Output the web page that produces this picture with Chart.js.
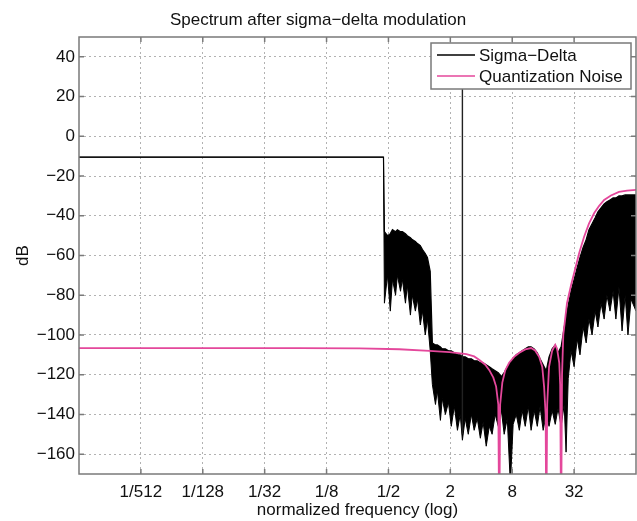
<!DOCTYPE html>
<html>
<head>
<meta charset="utf-8">
<script src="https://cdn.jsdelivr.net/npm/chart.js@4.4.0/dist/chart.umd.min.js"></script>
<style>
  html, body { margin: 0; padding: 0; background: #fff; }
  #wrap { width: 637px; height: 521px; }
</style>
</head>
<body>
<div id="wrap"><canvas id="spectrum" width="637" height="521"></canvas></div>
<script>
// x values are log2 of the normalized frequency
var xTicks = [-9, -7, -5, -3, -1, 1, 3, 5];
var xTickLabels = ['1/512', '1/128', '1/32', '1/8', '1/2', '2', '8', '32'];
var yTicks = [-160, -140, -120, -100, -80, -60, -40, -20, 0, 20, 40];

// Sigma-Delta spectrum: upper and lower edge of the dense trace (dB)
var sdLog2F = [-11, -1.16, -1.13, -1.03, -0.94, -0.87, -0.77, -0.71, -0.61, -0.55,
  -0.45, -0.39, -0.29, -0.23, -0.13, -0.06, 0.03, 0.10, 0.19, 0.26,
  0.35, 0.42, 0.52, 0.58, 0.68, 0.74, 0.84, 0.94, 1.03, 1.13,
  1.23, 1.32, 1.39, 1.48, 1.58, 1.68, 1.77, 1.87, 1.97, 2.06,
  2.16, 2.26, 2.35, 2.45, 2.55, 2.65, 2.74, 2.84, 2.94, 3.03,
  3.13, 3.23, 3.32, 3.42, 3.52, 3.61, 3.71, 3.81, 3.90, 4.00,
  4.10, 4.19, 4.29, 4.39, 4.48, 4.58, 4.68, 4.74, 4.81, 4.90,
  5.00, 5.10, 5.19, 5.29, 5.39, 5.48, 5.58, 5.68, 5.77, 5.87,
  5.97, 6.06, 6.16, 6.26, 6.35, 6.45, 6.55, 6.65, 6.74, 6.84, 7.00];
var sdUpper = [-10.5, -10.5, -48, -50, -49, -47, -48, -47, -48, -48,
  -49, -50, -51, -52, -53, -54, -55, -57, -59, -61,
  -68, -104, -105, -105, -106, -107, -107, -108, -108, -109,
  -110, -110, -111, -111, -112, -112, -113, -113, -114, -114,
  -115, -116, -117, -118, -119, -121, -119, -116, -114, -112,
  -110, -109, -108, -107, -106, -106, -107, -109, -112, -115,
  -118, -111, -107, -105, -109, -106, -96, -91, -85, -78,
  -72, -66, -61, -56, -52, -47, -44, -41, -38, -36,
  -34, -33, -32, -31, -31, -30, -30, -29.5, -29.5, -29.5, -29.5];
var sdLower = [-10.5, -10.5, -84, -70, -88, -72, -80, -70, -78, -72,
  -84, -75, -90, -80, -88, -82, -95, -88, -100, -92,
  -108, -125, -135, -128, -143, -132, -140, -134, -146, -136,
  -148, -140, -153, -142, -150, -140, -148, -142, -152, -144,
  -156, -146, -150, -140, -146, -138, -150, -142, -175, -145,
  -140, -148, -138, -146, -136, -148, -138, -146, -136, -148,
  -140, -146, -138, -145, -137, -146, -135, -159, -122, -108,
  -116, -102, -110, -96, -104, -92, -100, -88, -96, -84,
  -92, -80, -88, -78, -92, -76, -98, -80, -100, -82, -88];

// the signal tone
var toneLog2F = [1.39, 1.39];
var toneDb = [30, -150];

// Quantization noise shaping curve (dB)
var qnLog2F = [-11, -3.87, -1.94, -0.65, 0.32, 0.97, 1.52, 1.77, 1.94, 2.13,
  2.26, 2.39, 2.48, 2.55, 2.58, 2.61, 2.68, 2.77, 2.90, 3.06,
  3.23, 3.42, 3.61, 3.74, 3.87, 3.97, 4.03, 4.08, 4.10, 4.13,
  4.19, 4.29, 4.39, 4.45, 4.52, 4.55, 4.58, 4.61, 4.65, 4.71,
  4.77, 4.90, 5.03, 5.16, 5.32, 5.48, 5.65, 5.81, 5.97, 6.19,
  6.45, 6.71, 7.00];
var qnDb = [-106.6, -106.6, -106.8, -107.2, -108, -108.6, -109.6, -110.8, -112.6, -115,
  -117.7, -121.5, -126, -135, -200, -135, -124, -118, -114, -111,
  -109, -107.3, -106.6, -107.8, -111, -116, -126, -140, -200, -135,
  -116, -108, -105, -107, -114, -125, -200, -120, -100, -92,
  -84, -75, -67, -59, -50.7, -44, -38.6, -35, -32, -29.8,
  -28, -27.3, -27];

var pink = '#e4479b';
var axisGray = '#7a7a7a';

function pts(xs, ys) {
  return xs.map(function(v, i) { return {x: v, y: ys[i]}; });
}
function minusLabel(v) {
  return v < 0 ? '\u2212' + Math.abs(v) : String(v);
}

Chart.defaults.font.family = "'Liberation Sans', Arial, Helvetica, sans-serif";
Chart.defaults.font.size = 17;
Chart.defaults.color = '#111';

// axes box, inward ticks and a legend inside the plot
var boxPlugin = {
  id: 'matlabBox',
  afterDatasetsDraw: function(chart) {
    var ctx = chart.ctx, a = chart.chartArea;
    var xs = chart.scales.x, ys = chart.scales.y;
    ctx.save();
    ctx.strokeStyle = axisGray;
    ctx.lineWidth = 1.5;
    ctx.strokeRect(a.left, a.top, a.right - a.left, a.bottom - a.top);
    ctx.beginPath();
    xTicks.forEach(function(v) {
      var px = xs.getPixelForValue(v);
      ctx.moveTo(px, a.bottom); ctx.lineTo(px, a.bottom - 5);
      ctx.moveTo(px, a.top); ctx.lineTo(px, a.top + 5);
    });
    yTicks.forEach(function(v) {
      var py = ys.getPixelForValue(v);
      ctx.moveTo(a.left, py); ctx.lineTo(a.left + 5, py);
      ctx.moveTo(a.right, py); ctx.lineTo(a.right - 5, py);
    });
    ctx.stroke();

    // legend
    var lx = a.right - 205, ly = a.top + 6, lw = 200, lh = 46;
    ctx.fillStyle = '#fff';
    ctx.fillRect(lx, ly, lw, lh);
    ctx.strokeRect(lx, ly, lw, lh);
    var items = [
      {text: 'Sigma\u2212Delta', color: '#000'},
      {text: 'Quantization Noise', color: pink}
    ];
    ctx.font = "17px 'Liberation Sans', Arial, sans-serif";
    ctx.textBaseline = 'middle';
    ctx.textAlign = 'left';
    items.forEach(function(it, i) {
      var cy = ly + 12 + i * 21;
      ctx.beginPath();
      ctx.strokeStyle = it.color;
      ctx.lineWidth = 1.6;
      ctx.moveTo(lx + 6, cy); ctx.lineTo(lx + 44, cy);
      ctx.stroke();
      ctx.fillStyle = '#111';
      ctx.fillText(it.text, lx + 48, cy + 1);
    });
    ctx.restore();
  }
};

var ctx = document.getElementById('spectrum').getContext('2d');
var chart = new Chart(ctx, {
  type: 'line',
  data: {
    datasets: [{
      label: 'Sigma\u2212Delta',
      data: pts(sdLog2F, sdUpper),
      borderColor: '#000',
      borderWidth: 1.2,
      fill: false,
      order: 2
    }, {
      label: 'Sigma\u2212Delta lower',
      data: pts(sdLog2F, sdLower),
      borderColor: '#000',
      borderWidth: 1,
      backgroundColor: '#000',
      fill: '-1',
      order: 2
    }, {
      label: 'tone',
      data: pts(toneLog2F, toneDb),
      borderColor: '#222',
      borderWidth: 1.4,
      fill: false,
      order: 1
    }, {
      label: 'Quantization Noise',
      data: pts(qnLog2F, qnDb),
      borderColor: pink,
      borderWidth: 1.8,
      fill: false,
      order: 0
    }]
  },
  options: {
    responsive: false,
    animation: false,
    devicePixelRatio: 1,
    parsing: true,
    layout: { padding: { left: 0, right: 1, top: 0, bottom: 0 } },
    elements: { point: { radius: 0 }, line: { tension: 0 } },
    plugins: {
      legend: { display: false },
      tooltip: { enabled: false },
      title: {
        display: true,
        text: 'Spectrum after sigma\u2212delta modulation',
        font: { size: 17, weight: 'normal' },
        color: '#111',
        padding: { top: 10, bottom: 6.6 }
      }
    },
    scales: {
      x: {
        type: 'linear',
        min: -11,
        max: 7,
        afterBuildTicks: function(scale) {
          scale.ticks = xTicks.map(function(v) { return {value: v}; });
        },
        afterFit: function(scale) { scale.height = 47; },
        ticks: {
          autoSkip: false,
          maxRotation: 0,
          padding: 8,
          callback: function(v) {
            var i = xTicks.indexOf(v);
            return i >= 0 ? xTickLabels[i] : '';
          }
        },
        grid: { color: 'rgba(0,0,0,0.3)', lineWidth: 1, drawTicks: false },
        border: { display: false, dash: [2, 3] },
        title: {
          display: true,
          text: 'normalized frequency (log)',
          font: { size: 17 },
          padding: { top: 0, bottom: 0 }
        }
      },
      y: {
        type: 'linear',
        min: -170,
        max: 50,
        afterBuildTicks: function(scale) {
          scale.ticks = yTicks.map(function(v) { return {value: v}; });
        },
        afterFit: function(scale) { scale.width = 79; },
        ticks: {
          autoSkip: false,
          padding: 4,
          callback: function(v) { return minusLabel(v); }
        },
        grid: { color: 'rgba(0,0,0,0.3)', lineWidth: 1, drawTicks: false },
        border: { display: false, dash: [2, 3] },
        title: {
          display: true,
          text: 'dB',
          font: { size: 17 },
          padding: { top: 13, bottom: 0 }
        }
      }
    }
  },
  plugins: [boxPlugin]
});
</script>
</body>
</html>
